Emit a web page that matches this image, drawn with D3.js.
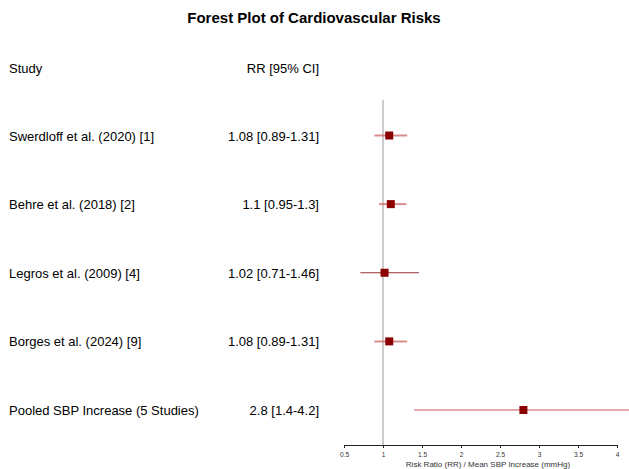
<!DOCTYPE html>
<html>
<head>
<meta charset="utf-8">
<script src="https://cdn.jsdelivr.net/npm/d3@7"></script>
<style>
  body { margin: 0; background: #fff; }
  text { font-family: "Liberation Sans", Arial, sans-serif; }
</style>
</head>
<body>
<svg width="629" height="469"></svg>
<script>
const studies = [
    "Swerdloff et al. (2020) [1]",
    "Behre et al. (2018) [2]",
    "Legros et al. (2009) [4]",
    "Borges et al. (2024) [9]",
    "Pooled SBP Increase (5 Studies)"
];
const estimates = [1.08, 1.1, 1.02, 1.08, 2.8];
const lower = [0.89, 0.95, 0.71, 0.89, 1.4];
const upper = [1.31, 1.3, 1.46, 1.31, 4.2];
const ciLabels = ["1.08 [0.89-1.31]", "1.1 [0.95-1.3]", "1.02 [0.71-1.46]", "1.08 [0.89-1.31]", "2.8 [1.4-4.2]"];
const xTicks = [0.5, 1, 1.5, 2, 2.5, 3, 3.5, 4];

const svg = d3.select("svg");

const x = d3.scaleLinear().domain([0.5, 4]).range([344, 617]);
const y = d3.scalePoint().domain(studies).range([135.5, 410]);

const rows = studies.map((s, i) => ({
    name: s, est: estimates[i], lo: lower[i], hi: upper[i], label: ciLabels[i], i: i
}));

// title
svg.append("text")
    .attr("x", 314).attr("y", 23)
    .attr("text-anchor", "middle")
    .attr("font-size", "15px")
    .attr("font-weight", "bold")
    .text("Forest Plot of Cardiovascular Risks");

// column headers
svg.append("text").attr("x", 9).attr("y", 73).attr("font-size", "13px").text("Study");
svg.append("text").attr("x", 319).attr("y", 73).attr("text-anchor", "end")
    .attr("font-size", "13px").text("RR [95% CI]");

// reference line at 1
svg.append("line")
    .attr("x1", x(1)).attr("x2", x(1))
    .attr("y1", 100).attr("y2", 445)
    .attr("stroke", "#aaa").attr("stroke-width", 1.2);

// CI lines
svg.selectAll(".ci")
    .data(rows)
    .enter().append("line")
    .attr("class", "ci")
    .attr("x1", d => x(d.lo))
    .attr("x2", d => x(d.hi))
    .attr("y1", d => y(d.name))
    .attr("y2", d => y(d.name))
    .attr("stroke", d => d.i === 2 ? "#8b1a1a" : "#cc6666")
    .attr("stroke-opacity", d => d.i === 2 ? 0.9 : 0.75)
    .attr("stroke-width", d => d.i === 2 ? 1.2 : (d.i === 4 ? 1.3 : 2));

// point markers
svg.selectAll(".pt")
    .data(rows)
    .enter().append("rect")
    .attr("class", "pt")
    .attr("x", d => x(d.est) - 4)
    .attr("y", d => y(d.name) - 4)
    .attr("width", 8).attr("height", 8)
    .attr("fill", "#8b0000");

// study labels
svg.selectAll(".study")
    .data(rows)
    .enter().append("text")
    .attr("class", "study")
    .attr("x", 9)
    .attr("y", d => y(d.name) + 5)
    .attr("font-size", "13px")
    .text(d => d.name);

svg.selectAll(".cilab")
    .data(rows)
    .enter().append("text")
    .attr("class", "cilab")
    .attr("x", 319)
    .attr("y", d => y(d.name) + 5)
    .attr("text-anchor", "end")
    .attr("font-size", "13px")
    .text(d => d.label);

// x axis
const axis = svg.append("g")
    .attr("transform", "translate(0,445)")
    .call(d3.axisBottom(x).tickValues(xTicks).tickSize(3).tickSizeOuter(0).tickFormat(d3.format("")));
axis.select(".domain").attr("stroke", "#222");
axis.selectAll(".tick line").attr("stroke", "#222");
axis.selectAll(".tick text")
    .attr("font-size", "6.5px")
    .attr("fill", "#333")
    .attr("y", 7)
    .style("font-family", "Liberation Sans, Arial, sans-serif");

svg.append("text")
    .attr("x", 488).attr("y", 467)
    .attr("text-anchor", "middle")
    .attr("font-size", "8px")
    .attr("fill", "#333")
    .text("Risk Ratio (RR) / Mean SBP Increase (mmHg)");
</script>
</body>
</html>
